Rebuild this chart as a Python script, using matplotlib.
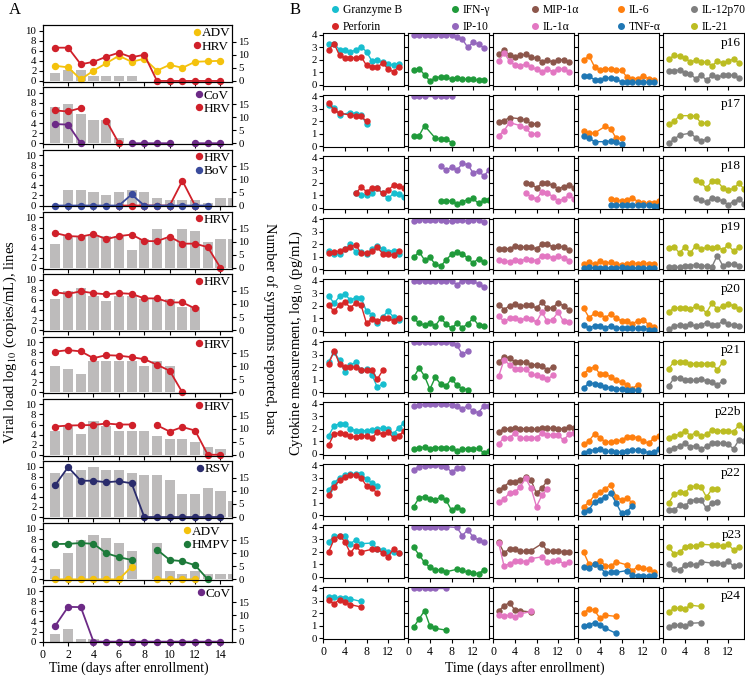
import numpy as np
import matplotlib
matplotlib.use('Agg')
import matplotlib.pyplot as plt
from matplotlib.lines import Line2D

plt.rcParams['font.family'] = ['Liberation Serif', 'DejaVu Serif']
plt.rcParams['mathtext.fontset'] = 'stix'

nan = np.nan

# ---------------- panel A data (days 1-14 for viral load, 1-15 for bars)
days_a = np.arange(1, 15)
bar_days = np.arange(1, 16)

a1_adv = [3.0, 2.7, 0.3, 2.05, 3.5, 5.0, 3.8, 4.4, 2.05, 3.2, 2.6, 3.8, 3.9, 4.0]
a1_hrv = [6.6, 6.6, 3.3, 3.8, 4.8, 5.6, 4.7, 5.2, 0, 0, 0, 0, 0, 0]
a1_bars = [3, 4, 4, 2, 2, 2, 2, 0, 0, 0, 0, 0, 0, 0, 0]

a2_cov = [3.8, 3.7, 0, nan, nan, nan, 0, 0, 0, 0, nan, 0, 0, 0]
a2_hrv = [6.5, 6.3, 7.0, nan, 4.5, 0, nan, nan, nan, nan, nan, nan, nan, nan]
a2_bars = [14, 15, 11, 9, 9, 2, 0, 0, 0, 0, 0, 0, 0, 0, 0]

a3_hrv = [nan, nan, nan, nan, nan, 0, 0, 0, 0, 0, 4.9, 0, nan, nan]
a3_bov = [0, 0, 0, 0, 0, 0, 2.2, 0, 0, 0, 0, 0, 0, nan]
a3_bars = [0, 6, 6, 5, 4, 5, 6, 5, 3, 2, 2, 2, 1, 3, 3]

a4_hrv = [6.9, 6.3, 6.2, 6.7, 5.7, 6.3, 6.6, 5.3, 5.3, 6.2, 4.8, 4.8, 4.1, 0]
a4_bars = [9, 12, 12, 12, 12, 12, 7, 11, 15, 11, 15, 14, 10, 11, 11]

a5_hrv = [7.5, 7.2, 7.7, 7.35, 7.1, 7.35, 7.2, 6.3, 6.3, 5.5, 5.5, 4.3, nan, nan]
a5_bars = [12, 15, 16, 13, 11, 13, 13, 12, 12, 12, 9, 9, 0, 0, 0]

a6_hrv = [8.1, 8.4, 8.15, 6.8, 7.4, 7.3, 7.0, 6.6, 5.5, 4.3, 0, nan, nan, nan]
a6_bars = [10, 9, 7, 12, 12, 12, 12, 10, 12, 10, 0, 0, 0, 0, 0]

a7_hrv = [5.6, 5.8, 5.85, 5.9, 6.2, 6.0, 6.0, nan, 5.85, 4.6, 5.5, 4.8, 0, 0]
a7_bars = [9, 11, 8, 13, 11, 9, 9, 9, 7, 6, 6, 5, 3, 2, 0]

a8_rsv = [6.4, 9.9, 7.2, 7.2, 6.9, 7.1, 6.7, 0, 0, 0, 0, 0, 0, 0]
a8_bars = [17, 17, 18, 19, 18, 18, 17, 16, 16, 14, 9, 9, 11, 10, 6]

a9_adv = [0, 0, 0, 0, 0, 0, 2.5, nan, 0, 0, 0, 0, nan, nan]
a9_hmpv = [7.0, 7.05, 7.2, 7.05, 5.2, 4.4, 3.85, nan, 5.9, 3.85, 3.6, 2.8, 0, nan]
a9_bars = [4, 10, 15, 17, 16, 14, 11, 0, 14, 3, 2, 3, 2, 2, 2]

a10_cov = [3.2, 6.9, 6.85, 0, 0, 0, 0, 0, 0, 0, 0, 0, 0, 0]
a10_bars = [3, 5, 1, 1, 0, 0, 0, 0, 0, 0, 0, 0, 0, 0, 0]

virus_colors = {'ADV': '#f4c20d', 'HRV': '#d0202a', 'CoV': '#6c2a86',
                'BoV': '#3a4b9c', 'RSV': '#2a2c6c', 'HMPV': '#1d7a3a'}

panels_a = [
    (a1_bars, [('ADV', a1_adv), ('HRV', a1_hrv)]),
    (a2_bars, [('CoV', a2_cov), ('HRV', a2_hrv)]),
    (a3_bars, [('HRV', a3_hrv), ('BoV', a3_bov)]),
    (a4_bars, [('HRV', a4_hrv)]),
    (a5_bars, [('HRV', a5_hrv)]),
    (a6_bars, [('HRV', a6_hrv)]),
    (a7_bars, [('HRV', a7_hrv)]),
    (a8_bars, [('RSV', a8_rsv)]),
    (a9_bars, [('ADV', a9_adv), ('HMPV', a9_hmpv)]),
    (a10_bars, [('CoV', a10_cov)]),
]

# ---------------- panel B data
patients = ['p16', 'p17', 'p18', 'p19', 'p20', 'p21', 'p22b', 'p22', 'p23', 'p24']
patient_days = [
    list(range(1, 15)),
    [1, 2, 3, 5, 6, 7, 8],
    list(range(6, 16)),
    list(range(1, 15)),
    list(range(1, 15)),
    list(range(1, 12)),
    list(range(1, 16)),
    list(range(1, 11)),
    [1, 2, 3, 4, 5, 6, 7, 9, 10, 11, 12, 13, 14],
    [1, 2, 3, 4, 5, 7],
]

granzyme_b = [
    [3.25, 3.3, 2.8, 2.75, 2.6, 2.8, 3.05, 2.65, 1.9, 2.0, 1.8, 1.7, 1.55, 1.7],
    [3.3, 3.1, 2.5, 2.7, 2.6, 2.5, 1.8],
    [1.15, 1.0, 1.05, 1.15, 1.55, 1.15, 0.75, 1.15, 1.1, 0.9],
    [1.45, 1.2, 1.2, 1.6, 2.0, 1.35, 1.35, 1.2, 1.6, 1.85, 1.6, 1.4, 1.5, 1.25],
    [2.8, 2.2, 2.75, 2.95, 2.45, 2.65, 2.65, 1.55, 1.3, 0.6, 1.1, 1.6, 1.1, 0.9],
    [2.45, 3.25, 2.55, 1.6, 2.2, 2.4, 1.75, 1.85, 1.4, 0.4, 0.7],
    [1.45, 2.25, 2.4, 2.35, 2.0, 1.85, 1.85, 1.85, 1.9, 2.0, 2.05, 2.0, 1.6, 2.1, 2.5],
    [2.0, 2.6, 3.0, 3.25, 3.3, 3.3, 3.3, 2.9, 2.55, 2.35],
    [2.75, 3.3, 3.3, 3.25, 2.65, 2.95, 2.65, 2.7, 2.25, 2.15, 1.95, 2.0, 1.9],
    [3.3, 3.3, 3.2, 3.2, 3.15, 2.95],
]
perforin = [
    [2.8, 3.3, 2.35, 2.15, 2.15, 2.15, 2.25, 1.55, 1.4, 1.4, 1.75, 1.25, 1.05, 1.45],
    [3.45, 2.9, 2.65, 2.5, 2.45, 2.4, 2.0],
    [1.15, 1.65, 1.3, 1.55, 1.55, 1.15, 1.4, 1.8, 1.75, 1.6],
    [1.3, 1.4, 1.45, 1.6, 1.8, 1.95, 1.3, 1.3, 1.45, 1.75, 1.25, 1.2, 1.15, 1.45],
    [2.05, 1.55, 2.1, 2.3, 1.85, 2.2, 2.05, 0.6, 0.95, 0.8, 1.0, 1.0, 0.8, 1.05],
    [2.3, 3.3, 2.3, 2.0, 2.05, 2.0, 1.75, 1.75, 1.75, 1.05, 1.75],
    [0.7, 1.6, 1.65, 1.6, 1.4, 1.35, 1.45, 1.45, 1.25, 1.75, 1.55, 1.75, 1.25, 1.45, 1.85],
    [1.6, 2.3, 2.8, 3.1, 3.25, 3.25, 3.0, 2.35, 2.2, 1.75],
    [2.0, 3.0, 3.3, 2.8, 1.9, 2.45, 2.0, 2.2, 2.25, 1.9, 1.6, 2.25, 1.9],
    [3.05, 2.75, 3.1, 2.9, 2.7, 2.5],
]
ifn_g = [
    [1.15, 1.3, 0.8, 0.3, 0.55, 0.65, 0.6, 0.45, 0.55, 0.45, 0.45, 0.45, 0.35, 0.35],
    [0.85, 0.85, 1.65, 0.65, 0.6, 0.6, 0.3],
    [0.55, 0.55, 0.55, 0.3, 0.5, 0.65, 0.75, 0.35, 0.6, 0.6],
    [0.95, 1.4, 0.75, 0.95, 0.4, 0.25, 0.75, 1.2, 1.35, 1.25, 0.9, 0.5, 0.85, 0.6],
    [1.0, 0.6, 0.45, 0.65, 0.4, 1.0, 0.55, 0.2, 0.6, 0.25, 0.55, 1.0, 0.45, 0.35],
    [1.2, 1.95, 1.3, 0.25, 1.2, 0.65, 0.5, 1.1, 0.55, 0.3, 0.2],
    [0.4, 0.45, 0.55, 0.4, 0.5, 0.5, 0.5, 0.45, 0.25, 0.4, 0.4, 0.4, 0.45, 0.05, 0.25],
    [0.7, 1.4, 1.5, 1.3, 1.25, 1.45, 1.2, 0.4, 0.7, 0.4],
    [2.35, 1.75, 1.15, 0.75, 0.55, 0.55, 0.4, 0.6, 0.55, 0.35, 0.3, 0.25, 0.55],
    [0.9, 1.55, 2.2, 1.0, 0.8, 0.65],
]
ip_10 = [
    [4.0, 4.0, 4.0, 4.0, 4.0, 4.0, 4.0, 4.0, 3.8, 3.65, 3.0, 3.4, 3.25, 2.95],
    [4.0, 4.0, 4.0, 4.0, 4.0, 4.0, 4.0],
    [3.35, 3.0, 3.25, 3.0, 3.55, 3.45, 2.8, 2.95, 2.55, 3.05],
    [3.9, 3.95, 3.95, 3.95, 3.95, 3.95, 3.9, 3.85, 3.95, 3.95, 3.85, 3.95, 3.95, 3.8],
    [4.0, 4.0, 4.0, 4.0, 4.0, 4.0, 4.0, 4.0, 3.7, 4.0, 4.0, 3.95, 3.75, 3.5],
    [4.0, 4.0, 4.0, 4.0, 4.0, 4.0, 4.0, 3.95, 3.75, 3.05, 3.3],
    [3.8, 3.9, 3.95, 3.95, 3.95, 3.95, 3.95, 3.9, 3.85, 3.6, 3.85, 3.4, 3.3, 3.85, 3.8],
    [3.65, 3.9, 3.95, 4.0, 4.0, 3.95, 3.9, 3.45, 3.75, 3.75],
    [4.0, 4.0, 4.0, 4.0, 4.0, 4.0, 4.0, 3.95, 3.3, 3.75, 3.2, 2.95, 2.75],
    [4.0, 4.0, 4.0, 4.0, 4.0, 4.0],
]
mip_1a = [
    [2.45, 2.75, 2.4, 2.25, 2.35, 2.45, 2.2, 2.15, 1.85, 1.95, 1.85, 2.0, 2.0, 1.85],
    [1.95, 2.05, 2.3, 2.2, 2.1, 1.8, 1.8],
    [1.95, 1.9, 1.6, 1.95, 1.95, 1.8, 1.5, 1.7, 1.8, 1.6],
    [1.65, 1.65, 1.65, 1.85, 1.75, 1.8, 1.75, 1.65, 2.0, 2.0, 1.8, 1.9, 1.75, 1.55],
    [2.1, 1.7, 2.0, 2.15, 1.95, 2.05, 2.05, 1.8, 2.3, 1.8, 1.85, 2.25, 2.0, 1.7],
    [2.4, 2.85, 2.75, 2.45, 2.45, 2.4, 2.2, 2.2, 2.1, 1.8, 2.05],
    [1.75, 2.0, 2.0, 2.1, 2.0, 2.0, 2.0, 1.95, 2.05, 2.05, 2.05, 2.0, 2.0, 2.15, 2.1],
    [2.0, 2.3, 2.65, 2.7, 2.8, 3.1, 2.8, 1.75, 2.2, 2.75],
    [2.75, 1.9, 2.25, 2.25, 2.05, 2.05, 2.1, 2.65, 2.05, 2.05, 2.05, 2.0, 2.0],
    [2.2, 2.6, 2.85, 2.25, 2.2, 2.1],
]
il_1a = [
    [1.9, 2.55, 1.9, 1.55, 1.5, 1.65, 1.4, 1.25, 1.05, 1.25, 1.05, 1.3, 1.25, 1.05],
    [0.85, 1.25, 1.9, 1.65, 1.45, 1.0, 1.0],
    [1.15, 0.9, 0.7, 1.3, 1.2, 0.9, 0.55, 0.7, 1.0, 0.7],
    [0.75, 0.7, 0.6, 0.75, 0.7, 0.8, 0.75, 0.7, 1.1, 1.1, 0.9, 1.05, 0.9, 0.7],
    [1.15, 0.75, 1.0, 1.05, 0.85, 1.0, 0.95, 0.7, 1.5, 0.75, 0.9, 1.5, 0.75, 0.7],
    [1.3, 2.6, 2.2, 1.85, 1.85, 1.85, 1.45, 1.35, 1.2, 1.05, 1.35],
    [0.8, 1.3, 1.3, 1.65, 1.25, 1.25, 1.25, 1.3, 1.65, 1.5, 1.5, 1.5, 1.1, 1.55, 1.7],
    [1.05, 1.3, 1.8, 1.85, 2.3, 2.95, 2.15, 0.7, 1.6, 2.1],
    [2.7, 0.85, 1.05, 1.25, 1.3, 1.2, 1.45, 1.6, 1.15, 1.3, 1.35, 1.05, 1.2],
    [1.85, 1.8, 1.85, 1.7, 1.95, 2.15],
]
il_6 = [
    [2.0, 2.3, 1.45, 1.2, 1.25, 1.3, 1.15, 1.2, 0.6, 0.5, 0.5, 0.7, 0.5, 0.4],
    [1.2, 1.05, 1.05, 1.6, 1.4, 0.65, 0.65],
    [0.7, 0.65, 0.55, 0.65, 0.8, 0.5, 0.35, 0.35, 0.4, 0.55],
    [0.4, 0.55, 0.4, 0.65, 0.5, 0.55, 0.45, 0.35, 0.45, 0.5, 0.45, 0.5, 0.45, 0.45],
    [1.8, 1.05, 1.4, 1.35, 1.05, 1.35, 1.0, 0.8, 0.75, 0.55, 0.8, 0.9, 0.5, 0.3],
    [1.5, 1.85, 2.05, 1.45, 1.45, 1.25, 0.95, 0.8, 0.6, 0.3, 0.6],
    [0.75, 1.05, 1.6, 1.3, 0.95, 0.95, 1.0, 1.1, 1.35, 1.35, 1.3, 1.0, 0.85, 1.25, 1.4],
    [0.7, 1.05, 1.6, 1.85, 2.1, 2.45, 1.5, 1.2, 1.35, 1.0],
    [1.95, 1.0, 1.0, 1.3, 0.9, 0.85, 1.2, 0.95, 0.5, 0.8, 0.7, 0.6, 0.4],
    [2.05, 2.35, 2.25, 1.6, 1.85, 1.75],
]
tnf_a = [
    [0.7, 0.7, 0.4, 0.4, 0.55, 0.55, 0.5, 0.2, 0.2, 0.2, 0.2, 0.2, 0.2, 0.2],
    [0.8, 0.65, 0.37, 0.37, 0.42, 0.37, 0.15],
    [0.25, 0.25, 0.2, 0.25, 0.25, 0.2, 0.2, 0.2, 0.15, 0.15],
    [0.1, 0.15, 0.1, 0.1, 0.1, 0.1, 0.1, 0.15, 0.1, 0.1, 0.1, 0.1, 0.1, 0.1],
    [0.45, 0.25, 0.4, 0.4, 0.25, 0.4, 0.2, 0.25, 0.25, 0.2, 0.2, 0.25, 0.1, 0.1],
    [0.35, 0.75, 0.7, 0.55, 0.45, 0.35, 0.3, 0.25, 0.2, 0.15, 0.15],
    [0.1, 0.25, 0.3, 0.4, 0.2, 0.2, 0.15, 0.15, 0.25, 0.3, 0.3, 0.2, 0.1, 0.15, 0.35],
    [0.3, 0.45, 1.1, 1.25, 1.5, 1.75, 1.0, 0.15, 0.3, 0.75],
    [0.75, 0.7, 1.0, 0.8, 0.3, 0.35, 0.35, 0.5, 0.15, 0.1, 0.1, 0.1, 0.15],
    [1.0, 1.1, 1.25, 1.05, 0.8, 0.4],
]
il_12p70 = [
    [1.1, 1.1, 1.2, 0.95, 0.85, 0.5, 0.8, 0.35, 0.75, 0.6, 0.75, 0.8, 0.75, 0.55],
    [0.25, 0.55, 0.9, 1.05, 0.7, 0.45, 0.55],
    [0.8, 0.6, 0.45, 0.8, 0.7, 0.55, 0.25, 0.5, 0.7, 0.3],
    [0.2, 0.2, 0.15, 0.25, 0.3, 0.35, 0.3, 0.25, 0.2, 1.1, 0.3, 0.45, 0.4, 0.3],
    [0.15, 0.4, 0.45, 0.35, 0.55, 0.35, 0.5, 0.65, 0.5, 0.5, 0.75, 0.55, 0.45, 0.4],
    [0.5, 1.15, 1.15, 0.95, 0.95, 0.95, 1.05, 0.9, 0.8, 0.6, 0.9],
    [0.3, 0.5, 0.6, 0.85, 0.55, 0.65, 0.4, 0.6, 0.85, 0.85, 0.85, 0.75, 0.4, 1.1, 1.05],
    [0.4, 0.4, 0.8, 0.75, 1.15, 1.25, 1.2, 0.55, 1.0, 1.05],
    [1.0, 0.6, 0.55, 0.95, 1.05, 0.95, 1.2, 1.1, 1.1, 1.05, 1.25, 0.85, 0.95],
    [0.9, 1.05, 1.05, 0.95, 1.2, 1.25],
]
il_21 = [
    [2.05, 2.35, 2.3, 2.15, 1.85, 1.95, 1.85, 1.8, 1.5, 1.9, 1.75, 1.9, 2.05, 1.75],
    [1.75, 2.0, 2.45, 2.45, 2.4, 1.85, 1.85],
    [2.2, 2.05, 1.55, 2.15, 2.15, 1.6, 1.4, 1.55, 1.95, 1.5],
    [1.7, 1.8, 1.3, 1.8, 1.3, 1.9, 1.6, 1.75, 1.7, 1.8, 1.55, 1.95, 1.45, 1.75],
    [1.5, 1.85, 1.8, 1.85, 1.75, 1.95, 1.8, 1.45, 2.2, 1.75, 2.0, 2.15, 2.0, 1.75],
    [1.9, 2.45, 2.45, 2.4, 2.3, 2.3, 2.3, 2.3, 2.3, 1.8, 2.4],
    [1.3, 1.45, 1.55, 1.85, 1.45, 1.7, 1.4, 1.55, 1.9, 1.85, 1.85, 1.85, 1.75, 2.3, 2.05],
    [1.0, 1.7, 1.85, 1.8, 2.25, 2.35, 2.25, 1.45, 2.1, 2.1],
    [2.35, 1.85, 1.95, 2.4, 2.5, 2.45, 2.6, 2.55, 2.55, 2.45, 2.6, 2.15, 2.35],
    [2.1, 2.4, 2.4, 2.35, 2.65, 2.55],
]

# columns of panel B: (name, values, colour) pairs
columns_b = [
    [('Granzyme B', granzyme_b, '#17becf'), ('Perforin', perforin, '#d62728')],
    [('IFN-γ', ifn_g, '#1f9a3a'), ('IP-10', ip_10, '#9467bd')],
    [('MIP-1α', mip_1a, '#8c564b'), ('IL-1α', il_1a, '#e377c2')],
    [('IL-6', il_6, '#ff7f0e'), ('TNF-α', tnf_a, '#1f77b4')],
    [('IL-12p70', il_12p70, '#7f7f7f'), ('IL-21', il_21, '#bcbd22')],
]
legend_x = [329, 449, 529, 615, 688]   # pixel position of each legend column

W, H = 745, 678
fig = plt.figure(figsize=(W / 100, H / 100), dpi=100)


def px_axes(left, top, width, height):
    return fig.add_axes([left / W, 1 - (top + height) / H, width / W, height / H])


tick_fs = 7.8

# ---------------- panel A
for i, (bars, series) in enumerate(panels_a):
    ax = px_axes(42.7, 25 + i * 62.3, 189.6, 56.7)
    ax2 = ax.twinx()
    ax2.bar(bar_days, bars, width=0.8, color='#bdbbbb', zorder=1)
    ax2.set_ylim(-0.3, 21.4)
    ax2.set_yticks([0, 5, 10, 15])
    ax.set_zorder(ax2.get_zorder() + 1)
    ax.patch.set_visible(False)
    handles = []
    for name, vals in series:
        c = virus_colors[name]
        ax.plot(days_a, vals, '-o', color=c, ms=4.3, lw=1.3, clip_on=False)
        handles.append(Line2D([], [], marker='o', ls='none', color=c, ms=4.3, label=name))
    ax.set_xlim(0, 14.93)
    ax.set_ylim(-0.15, 11.1)
    ax.set_yticks([0, 2, 4, 6, 8, 10])
    ax.set_xticks(range(0, 15, 2))
    for a in (ax, ax2):
        a.tick_params(direction='out', length=3, width=0.8, labelsize=tick_fs, pad=1.5)
        for s in a.spines.values():
            s.set_linewidth(0.8)
    if i < len(panels_a) - 1:
        ax.tick_params(labelbottom=False)
    else:
        ax.tick_params(axis='x', labelsize=8.5)
    ax.legend(handles=handles, loc='upper right', frameon=False, fontsize=9.5,
              handlelength=0.4, handletextpad=0.15, labelspacing=0.1,
              borderpad=0.1, borderaxespad=0.05)

# ---------------- panel B
for i, pname in enumerate(patients):
    d = patient_days[i]
    for j, pair in enumerate(columns_b):
        ax = px_axes(323.3 + j * 85, 33.3 + i * 61.5, 81, 52.5)
        for name, data, c in pair:
            ax.plot(d, data[i], '-o', color=c, ms=3.6, lw=1.0)
        ax.set_xlim(0, 15)
        ax.set_ylim(-0.08, 4.12)
        ax.set_yticks([0, 1, 2, 3, 4])
        ax.set_xticks([0, 4, 8, 12])
        ax.tick_params(direction='out', length=3, width=0.8, labelsize=tick_fs, pad=1.5)
        for s in ax.spines.values():
            s.set_linewidth(0.8)
        if j > 0:
            ax.tick_params(labelleft=False)
        if i < len(patients) - 1:
            ax.tick_params(labelbottom=False)
        else:
            ax.tick_params(axis='x', labelsize=8.5)
        if j == 4:
            ax.text(0.96, 0.93, pname, transform=ax.transAxes, ha='right', va='top',
                    fontsize=9.5)

# legend for panel B: one small two-row legend per column
for j, pair in enumerate(columns_b):
    hs = [Line2D([], [], marker='o', ls='none', color=c, ms=4, label=name)
          for name, data, c in pair]
    fig.legend(handles=hs, loc='upper left',
               bbox_to_anchor=((legend_x[j] - 4) / W, 1.004),
               frameon=False, fontsize=8.4, handlelength=0.5, handletextpad=0.45,
               labelspacing=0.4, borderpad=0.1)

# ---------------- labels
fig.text(0.012, 0.985, 'A', fontsize=12, va='center', ha='left')
fig.text(0.388, 0.985, 'B', fontsize=12, va='center', ha='left')
fig.text(0.014, 0.495, r'Viral load log$_{10}$ (copies/mL), lines', rotation=90,
         ha='center', va='center', fontsize=10.5)
fig.text(0.362, 0.516, 'Number of symptoms reported, bars', rotation=270,
         ha='center', va='center', fontsize=10.5)
fig.text(0.398, 0.494, r'Cytokine measurement, log$_{10}$ (pg/mL)', rotation=90,
         ha='center', va='center', fontsize=10.5)
fig.text(0.173, 0.015, 'Time (days after enrollment)', ha='center', va='center', fontsize=10)
fig.text(0.705, 0.015, 'Time (days after enrollment)', ha='center', va='center', fontsize=10)

fig.savefig('out.png', dpi=100)
